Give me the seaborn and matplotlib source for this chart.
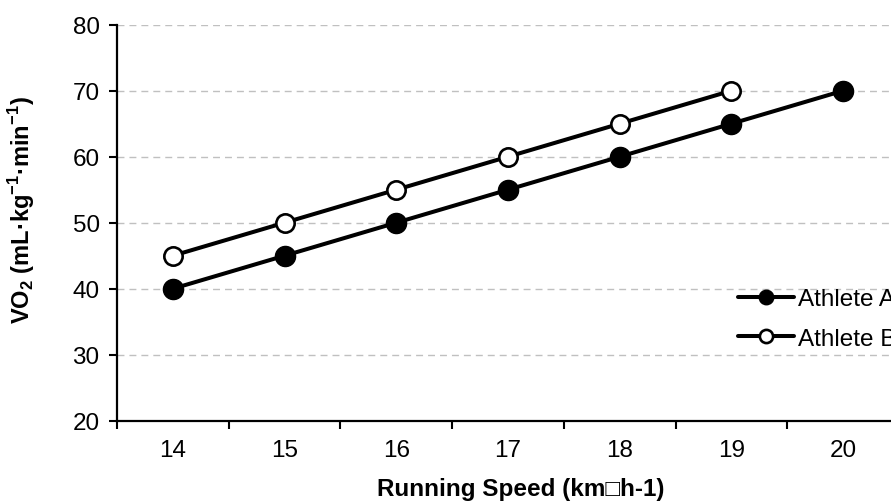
import matplotlib
matplotlib.use("Agg")
import matplotlib.pyplot as plt
import seaborn as sns
import pandas as pd
import numpy as np

# Running speed categories (km/h) and oxygen uptake for each athlete
speeds = ["14", "15", "16", "17", "18", "19", "20"]
athlete_a = [40, 45, 50, 55, 60, 65, 70]
athlete_b = [45, 50, 55, 60, 65, 70, np.nan]
y_ticks = [20, 30, 40, 50, 60, 70, 80]

sns.set_theme(style="white")
plt.rcParams["font.family"] = ["Liberation Sans", "DejaVu Sans"]
plt.rcParams["mathtext.fontset"] = "custom"
plt.rcParams["mathtext.rm"] = "Liberation Sans"
plt.rcParams["mathtext.bf"] = "Liberation Sans:bold"

FS = 17.5

pos = np.arange(len(speeds))
df_a = pd.DataFrame({"pos": pos, "vo2": athlete_a}).dropna()
df_b = pd.DataFrame({"pos": pos, "vo2": athlete_b}).dropna()

W, H = 891, 502
fig = plt.figure(figsize=(W / 100, H / 100), dpi=100)
# plot area runs slightly past the right edge of the canvas
x0, x1, ytop, ybot = 117, 899, 25.7, 421.7
ax = fig.add_axes([x0 / W, 1 - ybot / H, (x1 - x0) / W, (ybot - ytop) / H])

sns.lineplot(data=df_a, x="pos", y="vo2", ax=ax, color="black", lw=2.9,
             marker="o", markersize=14.5, markerfacecolor="black",
             markeredgecolor="black", markeredgewidth=1.0,
             errorbar=None, label="Athlete A", zorder=4)
sns.lineplot(data=df_b, x="pos", y="vo2", ax=ax, color="black", lw=2.9,
             marker="o", markersize=13.2, markerfacecolor="white",
             markeredgecolor="black", markeredgewidth=1.9,
             errorbar=None, label="Athlete B", zorder=4)

ax.set_xlim(-0.5, len(speeds) - 0.5)
ax.set_ylim(20, 80)
ax.set_yticks(y_ticks)
ax.set_xticks(pos)
ax.set_xticklabels(speeds)
ax.set_xticks(np.arange(-0.5, len(speeds), 1.0), minor=True)

ax.yaxis.grid(True, color="#c0c0c0", linestyle=(0, (5, 3.6)), linewidth=1.0)
ax.xaxis.grid(False)
ax.set_axisbelow(True)

for side in ("top", "right"):
    ax.spines[side].set_visible(False)
for side in ("left", "bottom"):
    ax.spines[side].set_color("black")
    ax.spines[side].set_linewidth(1.6)

ax.tick_params(axis="y", which="major", direction="out", length=5.5, width=1.5,
               color="black", labelsize=FS, pad=7, left=True)
ax.tick_params(axis="x", which="major", length=0, labelsize=FS, pad=13)
ax.tick_params(axis="x", which="minor", direction="out", length=5.5, width=1.5,
               color="black", bottom=True)
for lbl in ax.get_xticklabels() + ax.get_yticklabels():
    lbl.set_color("black")

ax.set_xlabel("Running Speed (km\u25a1h-1)", fontsize=FS, fontweight="bold",
              color="black", va="center")
ax.xaxis.set_label_coords((521 - x0) / (x1 - x0), (ybot - 490) / (ybot - ytop))
ax.set_ylabel(r"VO$_{\mathbf{2}}$ (mL·kg$^{\mathbf{-1}}$·min$^{\mathbf{-1}}$)",
              fontsize=17, fontweight="bold", color="black", va="center")
ax.yaxis.set_label_coords((22 - x0) / (x1 - x0), 0.535)

leg = ax.legend(loc="center left", bbox_to_anchor=(738 / W, 1 - 320 / H),
                bbox_transform=fig.transFigure, frameon=False, fontsize=FS,
                handlelength=2.3, handletextpad=0.17, labelspacing=0.72,
                borderpad=0, borderaxespad=0, markerscale=0.72)
for t in leg.get_texts():
    t.set_color("black")

fig.savefig("out.png", dpi=100)
